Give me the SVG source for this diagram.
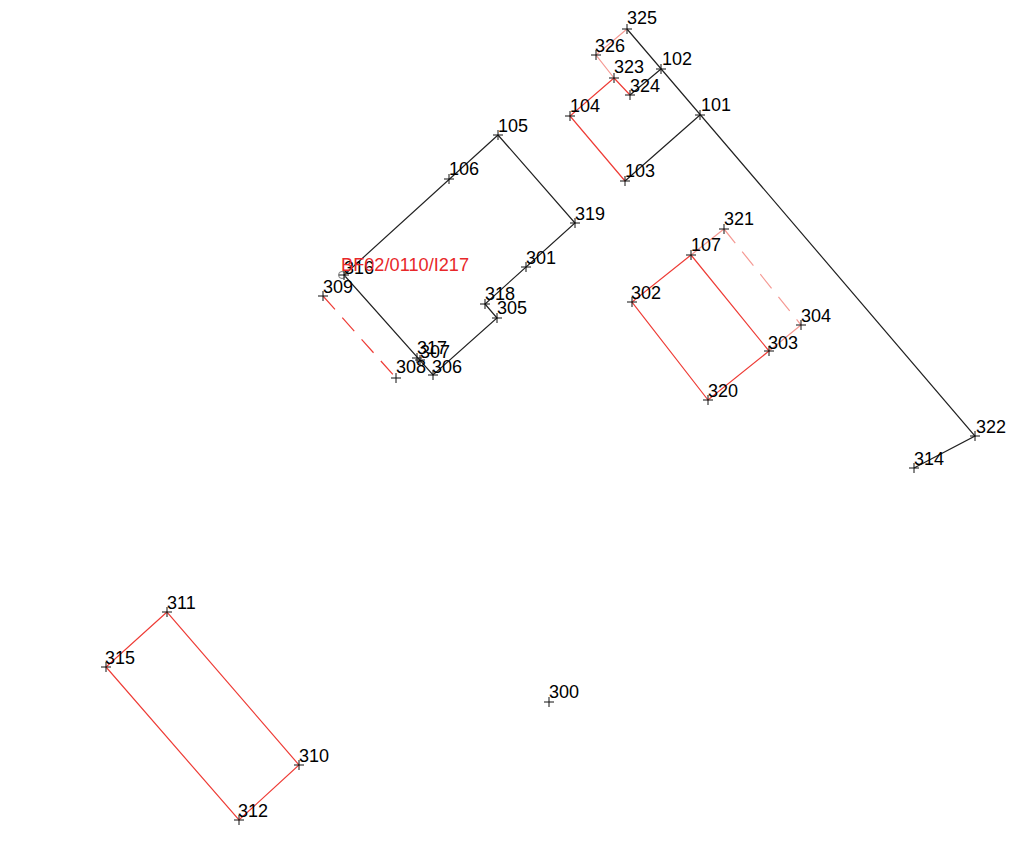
<svg xmlns="http://www.w3.org/2000/svg" width="1024" height="843" viewBox="0 0 1024 843">
<style>
text{font-family:"Liberation Sans",Arial,sans-serif;font-size:18px;fill:#000}
text.r{fill:#e8282a;font-size:18.2px}
.k{stroke:#222;stroke-width:1.2;fill:none}
.e{stroke:#ee3c36;stroke-width:1.2;fill:none}
.p{stroke:#f59a94;stroke-width:1.2;fill:none}
.d{stroke-dasharray:18 11}
.m{stroke:#111;stroke-width:1;fill:none}
.o{stroke:#777;stroke-width:1;fill:none}
</style>
<defs><path id="c" class="m" d="M-5 0H5M0-5V5"/></defs>
<rect width="1024" height="843" fill="#fff"/>
<g id="connectors">
<path class="k" d="M627 29L975 436L914 468M661 69L630 95M700 115L625 181M498 135L344 275L433 375L497 318L485 304L575 223L498 135"/>
<path class="p" d="M627 29L596 55L614 78M691 255L724 229M769 351L801 325"/>
<path class="e" d="M614 78L630 95M614 78L570 116L625 181M691 255L632 302L708 400L769 351L691 255"/>
<path class="p d" d="M724 229L801 325"/>
<path class="e d" d="M323 296L396 378"/>
<path class="e" d="M167 612L106 667L239 820L299 765Z"/>
<circle class="o" cx="342" cy="275" r="3.500"/>
</g>
<g id="n325"><use href="#c" x="627" y="29"/><text x="627" y="24">325</text></g>
<g id="n326"><use href="#c" x="596" y="55"/><text x="595" y="52">326</text></g>
<g id="n102"><use href="#c" x="661" y="69"/><text x="662" y="65">102</text></g>
<g id="n323"><use href="#c" x="614" y="78"/><text x="614" y="73">323</text></g>
<g id="n324"><use href="#c" x="630" y="95"/><text x="630" y="92">324</text></g>
<g id="n104"><use href="#c" x="570" y="116"/><text x="570" y="112">104</text></g>
<g id="n101"><use href="#c" x="700" y="115"/><text x="701" y="111">101</text></g>
<g id="n103"><use href="#c" x="625" y="181"/><text x="625" y="177">103</text></g>
<g id="n105"><use href="#c" x="498" y="135"/><text x="498" y="132">105</text></g>
<g id="n106"><use href="#c" x="449" y="179"/><text x="449" y="175">106</text></g>
<g id="n319"><use href="#c" x="575" y="223"/><text x="575" y="220">319</text></g>
<g id="n301"><use href="#c" x="526" y="267"/><text x="526" y="264">301</text></g>
<g id="n316"><use href="#c" x="344" y="275"/><text x="344" y="274">316</text></g>
<g id="n309"><use href="#c" x="323" y="296"/><text x="323" y="293">309</text></g>
<g id="n318"><use href="#c" x="485" y="304"/><text x="485" y="300">318</text></g>
<g id="n305"><use href="#c" x="497" y="318"/><text x="497" y="314">305</text></g>
<g id="n317"><use href="#c" x="417" y="358"/><text x="417" y="354">317</text></g>
<g id="n307"><use href="#c" x="420" y="360"/><text x="420" y="358">307</text></g>
<g id="n306"><use href="#c" x="433" y="375"/><text x="432" y="373">306</text></g>
<g id="n308"><use href="#c" x="396" y="378"/><text x="396" y="373">308</text></g>
<g id="n321"><use href="#c" x="724" y="229"/><text x="724" y="225">321</text></g>
<g id="n107"><use href="#c" x="691" y="255"/><text x="691" y="251">107</text></g>
<g id="n302"><use href="#c" x="632" y="302"/><text x="631" y="299">302</text></g>
<g id="n304"><use href="#c" x="801" y="325"/><text x="801" y="322">304</text></g>
<g id="n303"><use href="#c" x="769" y="351"/><text x="768" y="349">303</text></g>
<g id="n320"><use href="#c" x="708" y="400"/><text x="708" y="397">320</text></g>
<g id="n322"><use href="#c" x="975" y="436"/><text x="976" y="433">322</text></g>
<g id="n314"><use href="#c" x="914" y="468"/><text x="914" y="465">314</text></g>
<g id="n311"><use href="#c" x="167" y="612"/><text x="167" y="609">311</text></g>
<g id="n315"><use href="#c" x="106" y="667"/><text x="105" y="664">315</text></g>
<g id="n310"><use href="#c" x="299" y="765"/><text x="299" y="762">310</text></g>
<g id="n312"><use href="#c" x="239" y="820"/><text x="238" y="817">312</text></g>
<g id="n300"><use href="#c" x="549" y="702"/><text x="549" y="698">300</text></g>
<text class="r" x="341" y="271">BF02/0110/I217</text>
</svg>
